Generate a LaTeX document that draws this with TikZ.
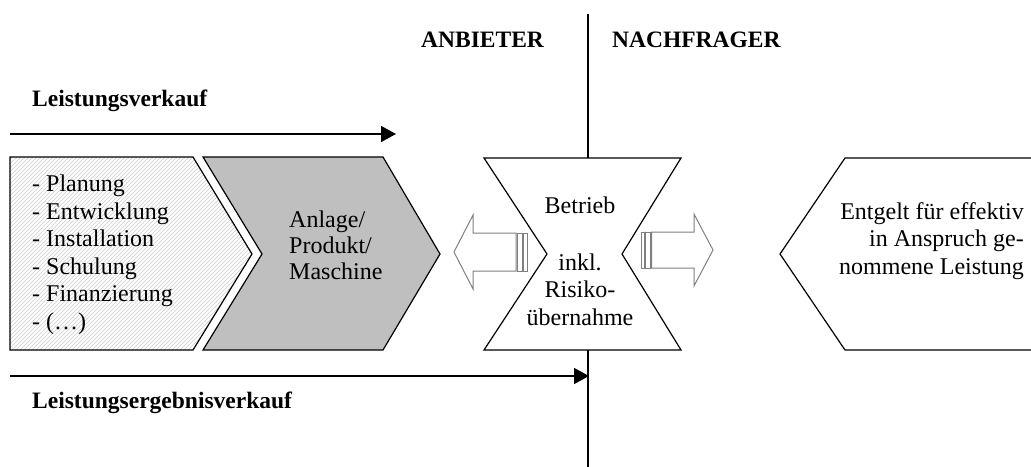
\documentclass[tikz,border=0pt]{standalone}
\usepackage{fontspec}
\setmainfont{Liberation Serif}
\usetikzlibrary{arrows.meta,patterns}

\pgfdeclarepatternformonly{hatchlines}{\pgfqpoint{-1pt}{-1pt}}{\pgfqpoint{5pt}{5pt}}{\pgfqpoint{4pt}{4pt}}{
  \pgfsetlinewidth{0.6pt}
  \pgfpathmoveto{\pgfqpoint{-0.1pt}{-0.1pt}}
  \pgfpathlineto{\pgfqpoint{4.1pt}{4.1pt}}
  \pgfusepath{stroke}}

\tikzset{
  chevron/.style={draw, line width=1.2pt, line join=miter},
  hollowarrow/.style={draw=black!50, fill=white, line width=1pt},
  flowarrow/.style={line width=1.6pt, -{Triangle[length=15pt,width=16pt]}},
  sidelabel/.style={font=\bfseries\fontsize{23.5}{27}\selectfont, anchor=base west, inner sep=0pt},
  boxtext/.style={font=\fontsize{24}{27.5}\selectfont, inner sep=0pt}
}

\begin{document}
\begin{tikzpicture}[x=1pt,y=-1pt]

                    \clip (0,0) rectangle (1031,466);

                    % Trennlinie Anbieter / Nachfrager
                    \coordinate (sepTop) at (588,14);
                    \coordinate (sepBot) at (588,470);
                    \draw[line width=1.4pt] (sepTop) -- (sepBot);
                    \node[sidelabel] (anbieter) at (421,47) {ANBIETER};
                    \node[sidelabel] (nachfrager) at (612,47) {NACHFRAGER};

                    % Leistungsverkauf
                    \node[sidelabel] (lverkauf) at (32,106) {Leistungsverkauf};
                    \coordinate (lvStart) at (10,134);
                    \coordinate (lvEnd) at (396,134);
                    \draw[flowarrow] (lvStart) -- (lvEnd);

                    % Pfeilformen
                    \draw[chevron, pattern=hatchlines, pattern color=black!20] (10,157) -- (193,157) -- (252,254) -- (193,350) -- (10,350) -- cycle;
                    \draw[chevron, fill=black!25] (203,157) -- (383,157) -- (440,254) -- (383,350) -- (203,350) -- (262,254) -- cycle;
                    \draw[chevron, fill=white] (484,158) -- (681,158) -- (622,254) -- (681,350) -- (484,350) -- (547,254) -- cycle;
                    \draw[chevron] (1040,158) -- (845,158) -- (780,254) -- (845,350) -- (1040,350);

                    \node[boxtext, align=left, anchor=north west] (leistungen) at (32,175)
                      {- Planung\\- Entwicklung\\- Installation\\- Schulung\\- Finanzierung\\- (\dots)};
                    \node[boxtext, font=\fontsize{24}{26}\selectfont, align=left, anchor=north west] (anlage) at (289,211)
                      {Anlage/\\Produkt/\\Maschine};
                    \node[boxtext, align=center, anchor=north] (betrieb) at (580,197)
                      {Betrieb\\[29pt]inkl.\\Risiko-\\übernahme};
                    \node[boxtext, align=right, anchor=north east] (entgelt) at (1024,202)
                      {Entgelt für effektiv\\in Anspruch ge-\\nommene Leistung};

                    % gestreifte Blockpfeile
                    \draw[hollowarrow] (454,252) -- (473,215) -- (473,233) -- (516,233) -- (516,271) -- (473,271) -- (473,289) -- cycle;
                    \draw[hollowarrow] (517.5,233) rectangle (522,271);
                    \draw[hollowarrow] (523.5,233) rectangle (527,271);

                    \draw[hollowarrow] (713,250) -- (694,214) -- (694,232) -- (651.5,232) -- (651.5,268) -- (694,268) -- (694,286) -- cycle;
                    \draw[hollowarrow] (645.5,232) rectangle (650,268);
                    \draw[hollowarrow] (641,232) rectangle (644,268);

                    % Leistungsergebnisverkauf
                    \coordinate (lgStart) at (10,376);
                    \coordinate (lgEnd) at (589,376);
                    \draw[flowarrow] (lgStart) -- (lgEnd);
                    \node[sidelabel] (lergebnis) at (32,408) {Leistungsergebnisverkauf};
                \end{tikzpicture}
\end{document}
